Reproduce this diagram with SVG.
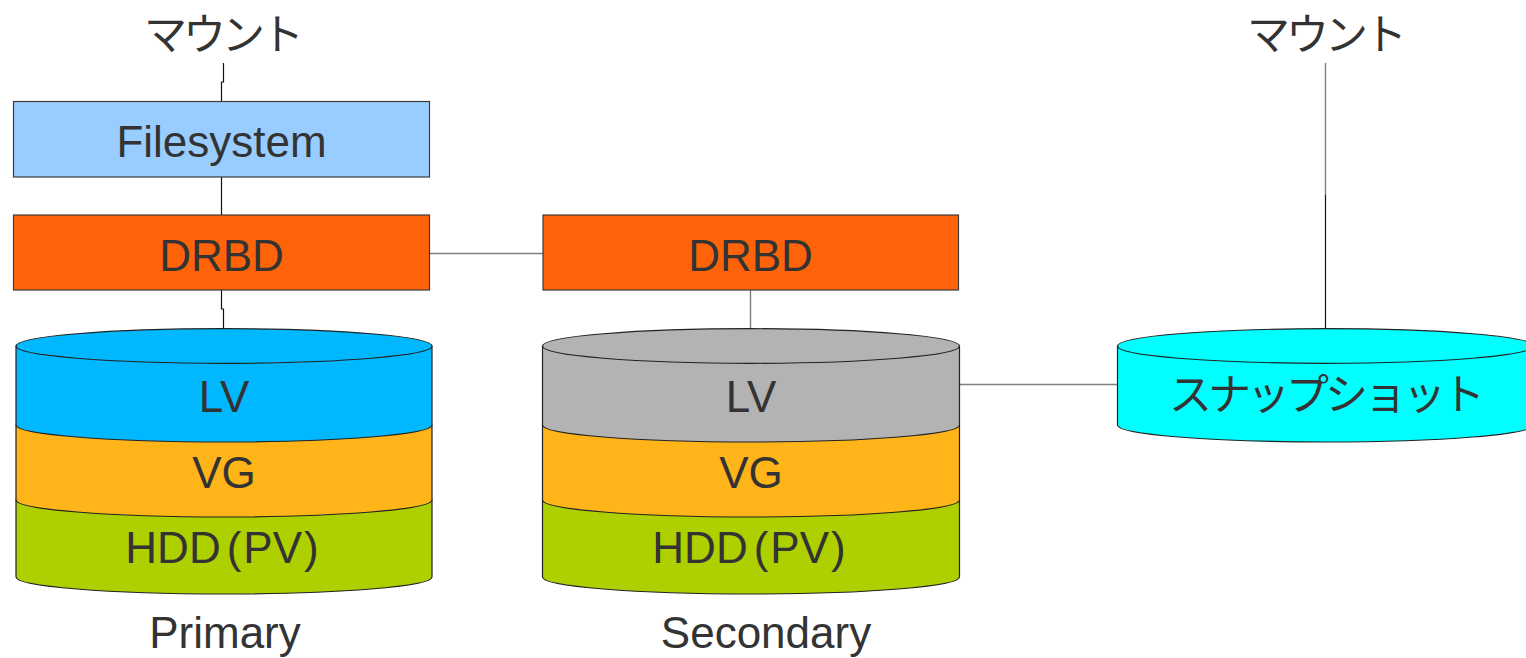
<svg xmlns="http://www.w3.org/2000/svg" width="1526" height="658" viewBox="0 0 1526 658">
  <style>
    .lbl { font-family: "Liberation Sans", "Noto Sans CJK JP", sans-serif; font-size: 44px; fill: #333333; text-anchor: middle; }
    .jp { font-family: "Noto Sans CJK JP", sans-serif; font-size: 43px; fill: #333333; text-anchor: middle; letter-spacing: -4px; }
    .box { stroke: #3c3c3c; stroke-width: 1.2; }
    .cyl { stroke: #222222; stroke-width: 1.2; }
    .wire { fill: none; stroke: #7f7f7f; stroke-width: 1.4; }
    .wire-dark { fill: none; stroke: #111111; stroke-width: 1.2; }
  </style>

  <!-- connectors -->
  <g id="connectors">
    <path class="wire-dark" d="M223.5,63 V82 H221.5 V101.5"/>
    <path class="wire-dark" d="M221.5,177 V215"/>
    <path class="wire-dark" d="M221.5,290 V309 H223.5 V329"/>
    <path class="wire" d="M429.5,253.5 H543"/>
    <path class="wire" d="M750.5,290 V329"/>
    <path class="wire" d="M959,384.5 H1117"/>
    <path class="wire" d="M1325.5,63 V195"/>
    <path class="wire-dark" d="M1325.5,195 V329"/>
  </g>

  <!-- titles -->
  <g id="mount-left">
    <text class="jp" x="222" y="50">マウント</text>
  </g>
  <g id="mount-right">
    <text class="jp" x="1325" y="50">マウント</text>
  </g>

  <!-- primary stack -->
  <g id="filesystem">
    <rect class="box" x="13.5" y="101.5" width="416" height="75.5" fill="#99ccff"/>
    <text class="lbl" x="221.5" y="157">Filesystem</text>
  </g>
  <g id="drbd-primary">
    <rect class="box" x="13.5" y="215" width="416" height="75" fill="#ff630a"/>
    <text class="lbl" x="221.5" y="271">DRBD</text>
  </g>
  <g id="disk-primary">
    <path class="cyl" fill="#aecf00" d="M16,500 V577 A208,17 0 0 0 432,577 V500 Z"/>
    <path class="cyl" fill="#ffb419" d="M16,425 V500 A208,17 0 0 0 432,500 V425 Z"/>
    <path class="cyl" fill="#00b8ff" d="M16,346 V425 A208,17 0 0 0 432,425 V346 Z"/>
    <ellipse class="cyl" cx="224" cy="346" rx="208" ry="17.3" fill="#00b8ff"/>
    <text class="lbl" x="224" y="412">LV</text>
    <text class="lbl" x="224" y="488">VG</text>
    <text class="lbl" x="222" y="563">HDD<tspan dx="6">(</tspan><tspan dx="2">PV</tspan><tspan dx="2">)</tspan></text>
  </g>
  <g id="label-primary">
    <text class="lbl" x="225" y="648">Primary</text>
  </g>

  <!-- secondary stack -->
  <g id="drbd-secondary">
    <rect class="box" x="543" y="215" width="415.5" height="75" fill="#ff630a"/>
    <text class="lbl" x="750.5" y="271">DRBD</text>
  </g>
  <g id="disk-secondary">
    <path class="cyl" fill="#aecf00" d="M542.5,500 V577 A208.5,17 0 0 0 959.5,577 V500 Z"/>
    <path class="cyl" fill="#ffb419" d="M542.5,425 V500 A208.5,17 0 0 0 959.5,500 V425 Z"/>
    <path class="cyl" fill="#b3b3b3" d="M542.5,346 V425 A208.5,17 0 0 0 959.5,425 V346 Z"/>
    <ellipse class="cyl" cx="751" cy="346" rx="208.5" ry="17.3" fill="#b3b3b3"/>
    <text class="lbl" x="751" y="412">LV</text>
    <text class="lbl" x="751" y="488">VG</text>
    <text class="lbl" x="749" y="563">HDD<tspan dx="6">(</tspan><tspan dx="2">PV</tspan><tspan dx="2">)</tspan></text>
  </g>
  <g id="label-secondary">
    <text class="lbl" x="766" y="648">Secondary</text>
  </g>

  <!-- snapshot volume -->
  <g id="snapshot">
    <path class="cyl" fill="#00ffff" d="M1117.5,346 V425 A208,17 0 0 0 1533.5,425 V346 Z"/>
    <ellipse class="cyl" cx="1325.5" cy="346" rx="208" ry="17.3" fill="#00ffff"/>
    <text class="jp" x="1325" y="410">スナップショット</text>
  </g>
</svg>
